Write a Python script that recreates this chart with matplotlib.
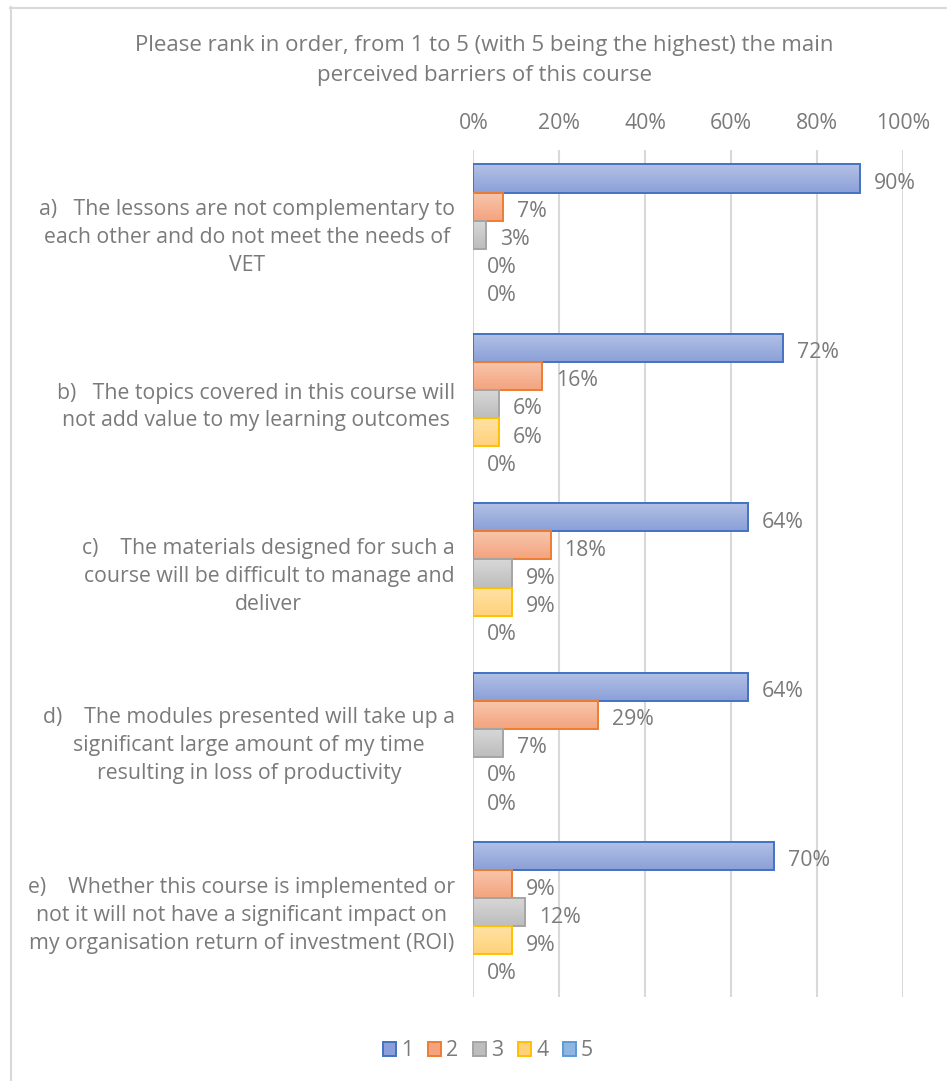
import numpy as np
import matplotlib
matplotlib.use("Agg")
import matplotlib.pyplot as plt
from matplotlib.colors import LinearSegmentedColormap
from matplotlib.patches import Patch
from matplotlib.lines import Line2D
from matplotlib.transforms import ScaledTranslation

plt.rcParams['font.family'] = ['Open Sans', 'DejaVu Sans']

# survey answers, percent of respondents per rank
questions = [
    "a)   The lessons are not complementary to\neach other and do not meet the needs of\nVET",
    "b)   The topics covered in this course will\nnot add value to my learning outcomes",
    "c)    The materials designed for such a\ncourse will be difficult to manage and\ndeliver",
    "d)    The modules presented will take up a\nsignificant large amount of my time\nresulting in loss of productivity",
    "e)    Whether this course is implemented or\nnot it will not have a significant impact on\nmy organisation return of investment (ROI)",
]
ranks = ["1", "2", "3", "4", "5"]
rank1 = [90, 72, 64, 64, 70]
rank2 = [7, 16, 18, 29, 9]
rank3 = [3, 6, 9, 7, 12]
rank4 = [0, 6, 9, 0, 9]
rank5 = [0, 0, 0, 0, 0]
series = [rank1, rank2, rank3, rank4, rank5]

title = "Please rank in order, from 1 to 5 (with 5 being the highest) the main\nperceived barriers of this course"

# (top colour, bottom colour, edge colour) for each rank
styles = [
    ("#b3c1e6", "#8ba0d8", "#4472c4"),
    ("#f8c7ad", "#f4a37e", "#ed7d31"),
    ("#d8d8d8", "#bdbdbd", "#a5a5a5"),
    ("#ffe2a6", "#ffd27a", "#ffc000"),
    ("#b9d1ee", "#8fb5e3", "#5b9bd5"),
]
txt = "#7a7a7a"
grid = "#d9d9d9"
fs = 15.3

fig = plt.figure(figsize=(9.47, 10.81), dpi=100)
ax = fig.add_axes([473.3 / 947, 1 - 997 / 1081, (903 - 473.3) / 947, (997 - 150) / 1081])

n = len(questions)
h = 0.166
ypos = np.arange(n)

for j, vals in enumerate(series):
    top, bot, edge = styles[j]
    cmap = LinearSegmentedColormap.from_list("g%d" % j, [top, bot])
    grad = np.linspace(0, 1, 64).reshape(-1, 1)
    yc = ypos + (j - 2) * h
    for y, v in zip(yc, vals):
        if v > 0:
            ax.imshow(grad, cmap=cmap, aspect="auto", interpolation="bilinear",
                      extent=(0, v, y + h / 2, y - h / 2), zorder=2)
    lw = [1.4 if v > 0 else 0 for v in vals]
    ax.barh(yc, vals, height=h, facecolor="none", edgecolor=edge, linewidth=lw, zorder=3)
    for y, v in zip(yc, vals):
        ax.annotate(f"{v}%", xy=(v, y), xytext=(10, -3.5), textcoords="offset points",
                    va="center", ha="left", fontsize=fs, color=txt, zorder=4)

ax.set_xlim(0, 100)
ax.set_ylim(n - 0.5, -0.5)
ax.set_xticks(np.arange(0, 101, 20))
ax.set_xticklabels([f"{t}%" for t in range(0, 101, 20)])
ax.xaxis.tick_top()
ax.tick_params(axis="x", length=0, pad=11.5, labelsize=fs, labelcolor=txt)
ax.grid(axis="x", color=grid, linewidth=1.5, zorder=0)
ax.set_axisbelow(True)

# category text: block right-aligned next to the axis, lines centred within it
ax.set_yticks(ypos)
ax.set_yticklabels(questions, ha="right", multialignment="center", linespacing=1.43)
ax.tick_params(axis="y", length=0, pad=13, labelsize=fs, labelcolor=txt)
nudge = ScaledTranslation(0, 3 / 100, fig.dpi_scale_trans)
for lab in ax.get_yticklabels():
    lab.set_transform(lab.get_transform() + nudge)
for s in ax.spines.values():
    s.set_visible(False)

fig.text(484 / 947, 1 - 60.5 / 1081, title, ha="center", va="center",
         fontsize=16, color=txt, linespacing=1.5)

handles = [Patch(facecolor=styles[j][1], edgecolor=styles[j][2], linewidth=1.4) for j in range(5)]
fig.legend(handles, ranks, loc="center", bbox_to_anchor=(488 / 947, 1 - 1051 / 1081),
           ncol=5, frameon=False, fontsize=fs, labelcolor=txt, handlelength=0.6,
           handleheight=0.6, handletextpad=0.25, columnspacing=0.7)

# chart frame
fig.add_artist(Line2D([10.5 / 947, 10.5 / 947], [0, 1 - 7 / 1081], color=grid, linewidth=1.5))
fig.add_artist(Line2D([10 / 947, 1], [1 - 7.5 / 1081, 1 - 7.5 / 1081], color=grid, linewidth=1.5))

fig.savefig("out.png", dpi=100)
